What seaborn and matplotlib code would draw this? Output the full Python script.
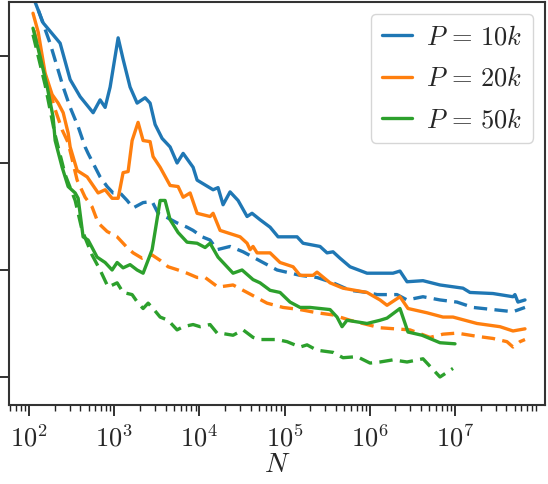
import numpy as np
import pandas as pd
import matplotlib
matplotlib.use("Agg")
import matplotlib.pyplot as plt
from matplotlib.ticker import LogLocator, NullFormatter, FuncFormatter, FixedLocator
import seaborn as sns

# ---------------- data ----------------
labels = [r"$P\,=\,10k$", r"$P\,=\,20k$", r"$P\,=\,50k$"]
x_ticks = [1e2, 1e3, 1e4, 1e5, 1e6, 1e7]
y_ticks = [1, 2, 3, 4]

n_10k_solid = [118, 146, 231, 303, 397, 564, 681, 780, 893, 1109, 1268, 1531, 1852, 2299, 2630, 3013,
               3639, 4519, 5458, 6427, 8414, 9376, 14450, 16520, 18920, 22860, 28380, 36220, 41400,
               51400, 67450, 83750, 140000, 164500, 260200, 314500, 369800, 446700, 586100, 926800,
               1.871e6, 2.259e6, 2.735e6, 4.209e6, 6.668e6, 1.241e7, 1.5e7, 2.793e7, 4.797e7,
               5.058e7, 5.485e7, 6.637e7]
e_10k_solid = [4.50, 4.31, 4.12, 3.78, 3.62, 3.47, 3.59, 3.52, 3.71, 4.17, 3.97, 3.71, 3.56, 3.61, 3.56, 3.36,
               3.23, 3.15, 3.00, 3.09, 2.96, 2.84, 2.75, 2.77, 2.61, 2.73, 2.65, 2.50, 2.53,
               2.47, 2.40, 2.31, 2.31, 2.25, 2.22, 2.16, 2.17, 2.11, 2.03, 1.97,
               1.97, 1.99, 1.89, 1.90, 1.86, 1.83, 1.79, 1.78, 1.75,
               1.77, 1.70, 1.72]

n_10k_dash = [128, 176, 213, 251, 303, 376, 454, 492, 681, 823, 968, 1169, 1413, 1663, 2178, 2780, 3266,
              4169, 5458, 7145, 8414, 10740, 13310, 16100, 22860, 32510, 42560, 55720, 81470, 151700,
              239900, 369800, 586100, 926800, 1.216e6, 2.085e6, 2.735e6, 4.209e6, 6.668e6, 1.055e7,
              1.626e7, 2.793e7, 4.797e7, 6.637e7]
e_10k_dash = [4.43, 4.12, 3.90, 3.71, 3.52, 3.34, 3.15, 3.09, 2.87, 2.78, 2.72, 2.72, 2.65, 2.58, 2.63, 2.64, 2.53,
              2.49, 2.44, 2.40, 2.37, 2.31, 2.28, 2.19, 2.22, 2.17, 2.12, 2.07, 2.00, 1.95,
              1.93, 1.88, 1.81, 1.79, 1.77, 1.77, 1.72, 1.75, 1.72, 1.70,
              1.65, 1.63, 1.61, 1.65]

n_20k_solid = [111, 128, 154, 186, 219, 251, 287, 303, 366, 480, 646, 780, 942, 1109, 1268, 1452, 1618,
               1901, 2178, 2630, 2851, 3451, 4519, 5610, 6427, 7762, 9376, 13310, 14450, 17460, 29990,
               36220, 39270, 42560, 47430, 67450, 88310, 125600, 151700, 215400, 239900, 341200,
               484200, 926800, 1.318e6, 1.592e6, 2.259e6, 2.807e6, 4.69e6, 7.228e6, 9.48e6, 1.811e7,
               3.374e7, 4.797e7, 6.637e7]
e_20k_solid = [4.40, 4.22, 3.84, 3.64, 3.56, 3.47, 3.28, 3.15, 2.93, 2.87, 2.72, 2.75, 2.67, 2.67, 2.91, 2.92, 3.21,
               3.38, 3.21, 3.20, 3.06, 2.96, 2.79, 2.78, 2.68, 2.72, 2.53, 2.50, 2.53, 2.37, 2.31,
               2.25, 2.19, 2.22, 2.16, 2.16, 2.07, 2.03, 1.95, 1.95, 1.98, 1.88,
               1.83, 1.79, 1.72, 1.67, 1.75, 1.64, 1.60, 1.56, 1.56, 1.50,
               1.47, 1.43, 1.45]

n_20k_dash = [114, 154, 202, 244, 287, 366, 454, 548, 646, 823, 1079, 1413, 1663, 2118, 2780, 3451, 4285,
              5610, 7145, 9376, 11640, 16520, 24780, 36220, 62090, 95720, 151700, 239900, 369800,
              586100, 1.318e6, 2.965e6, 5.093e6, 7.228e6, 1.055e7, 1.811e7, 2.793e7, 4.074e7,
              4.797e7, 5.793e7, 6.637e7]
e_20k_dash = [4.24, 3.82, 3.50, 3.31, 3.19, 2.84, 2.68, 2.59, 2.44, 2.36, 2.31, 2.21, 2.16, 2.11, 2.14, 2.09, 2.03,
              2.00, 1.97, 1.93, 1.93, 1.84, 1.86, 1.79, 1.69, 1.65, 1.63, 1.60, 1.58,
              1.53, 1.46, 1.44, 1.37, 1.40, 1.41, 1.38, 1.36, 1.33,
              1.28, 1.33, 1.35]

n_50k_solid = [111, 135, 163, 191, 202, 244, 287, 347, 376, 430, 492, 548, 628, 780, 942, 1079, 1268, 1531,
               1852, 2178, 2780, 3451, 3945, 4519, 5610, 7145, 9376, 11640, 13310, 16520, 24780, 31620,
               42560, 51400, 67450, 88310, 115700, 151700, 198600, 341200, 412100, 472100, 539500,
               926800, 1.318e6, 1.592e6, 2.259e6, 2.807e6, 4.102e6, 6.668e6, 1.0e7]
e_50k_solid = [4.26, 3.99, 3.71, 3.43, 3.21, 2.96, 2.78, 2.72, 2.67, 2.31, 2.28, 2.21, 2.12, 2.07, 2.00, 2.07, 2.02, 2.05,
               2.00, 1.97, 2.19, 2.65, 2.65, 2.47, 2.35, 2.26, 2.25, 2.21, 2.25, 2.12, 1.97, 2.00,
               1.91, 1.88, 1.81, 1.79, 1.70, 1.65, 1.65, 1.63, 1.56, 1.47, 1.53,
               1.50, 1.53, 1.55, 1.64, 1.42, 1.39, 1.32, 1.31]

n_50k_dash = [111, 154, 202, 265, 347, 419, 548, 681, 846, 1079, 1268, 1618, 1901, 2178, 2495, 2851, 3451,
              4285, 5458, 6427, 8414, 10160, 13310, 16100, 17460, 24780, 32510, 42560, 51400, 81470,
              106700, 151700, 183300, 239900, 369800, 484200, 707900, 1.005e6, 1.318e6, 1.871e6,
              2.735e6, 4.209e6, 5.37e6, 6.668e6, 9.48e6]
e_50k_dash = [4.20, 3.73, 3.26, 2.89, 2.65, 2.37, 2.14, 2.00, 1.84, 1.88, 1.79, 1.77, 1.69, 1.64, 1.69, 1.64, 1.56,
              1.53, 1.44, 1.47, 1.49, 1.47, 1.49, 1.41, 1.41, 1.39, 1.44, 1.37, 1.35, 1.35,
              1.33, 1.28, 1.30, 1.25, 1.23, 1.18, 1.19, 1.13, 1.14, 1.16,
              1.14, 1.17, 1.08, 1.00, 1.08]

series = [
    (n_10k_solid, e_10k_solid, n_10k_dash, e_10k_dash),
    (n_20k_solid, e_20k_solid, n_20k_dash, e_20k_dash),
    (n_50k_solid, e_50k_solid, n_50k_dash, e_50k_dash),
]

# ---------------- plot ----------------
sns.set_style("ticks")
plt.rcParams["mathtext.fontset"] = "cm"
plt.rcParams["font.family"] = ["DejaVu Serif"]

colors = sns.color_palette("tab10", 3)

fig = plt.figure(figsize=(5.48, 4.84), dpi=100)
ax = fig.add_axes([9 / 548, 79 / 484, 536 / 548, 403 / 484])

lw = 2.4
for (ns, es, nd, ed), lab, c in zip(series, labels, colors):
    sns.lineplot(x=ns, y=es, ax=ax, color=c, linewidth=lw, label=lab, sort=False, estimator=None)
    sns.lineplot(x=nd, y=ed, ax=ax, color=c, linewidth=lw, linestyle=(0, (4.0, 2.2)),
                 sort=False, estimator=None)

ax.set_xscale("log")
ax.set_xlim(58, 1.14e8)
ax.set_ylim(0.738, 4.505)

ax.xaxis.set_major_locator(FixedLocator(x_ticks))
ax.xaxis.set_minor_locator(LogLocator(base=10, subs=np.arange(2, 10), numticks=100))
ax.xaxis.set_minor_formatter(NullFormatter())
ax.xaxis.set_major_formatter(FuncFormatter(lambda v, p: r"$10^{%d}$" % int(round(np.log10(v)))))
ax.yaxis.set_major_locator(FixedLocator(y_ticks))
ax.yaxis.set_minor_locator(FixedLocator([]))
ax.tick_params(axis="y", labelleft=False, length=8, width=1.3, color="#222222")
ax.tick_params(axis="x", which="major", length=8, width=1.3, labelsize=19, color="#222222", pad=6)
ax.tick_params(axis="x", which="minor", length=4.5, width=1.0, color="#222222")

for s in ax.spines.values():
    s.set_linewidth(1.5)
    s.set_color("#333333")

ax.set_xlabel(r"$N$", fontsize=20, labelpad=0)
ax.set_ylabel("")

leg = ax.legend(loc="upper right", fontsize=19, frameon=True, handlelength=1.15,
                borderaxespad=0.45, labelspacing=0.62, handletextpad=0.55, borderpad=0.4)
leg.get_frame().set_edgecolor("#cccccc")
leg.get_frame().set_linewidth(1.0)
for h in leg.get_lines():
    h.set_linestyle("-")
    h.set_linewidth(lw)

fig.savefig("out.png", dpi=100)
